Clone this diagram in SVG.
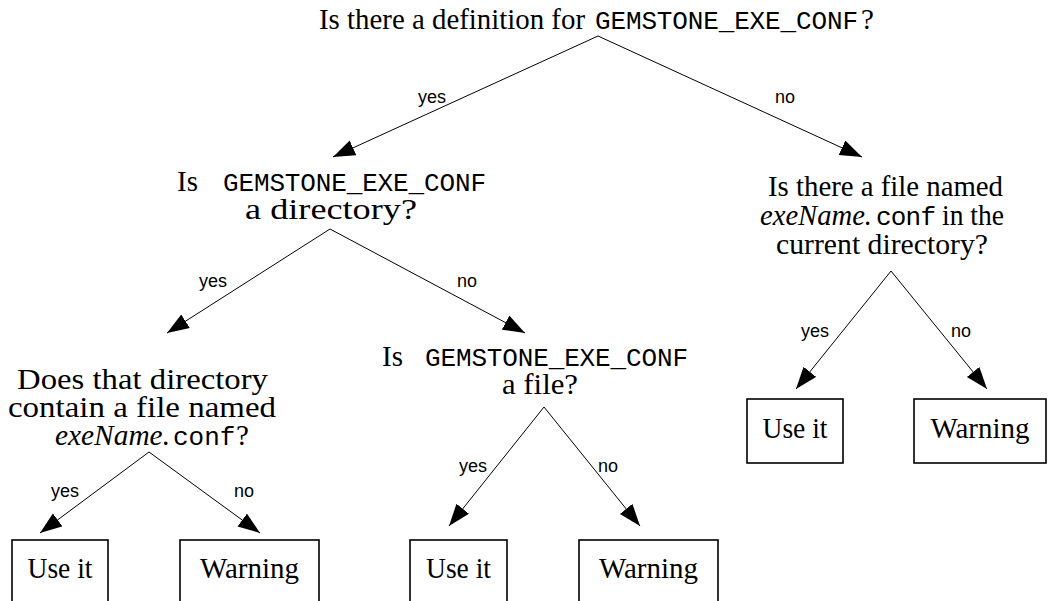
<svg xmlns="http://www.w3.org/2000/svg" width="1048" height="601" viewBox="0 0 1048 601">
<defs>
<marker id="ah" markerUnits="userSpaceOnUse" markerWidth="24" markerHeight="18" refX="22" refY="8" orient="auto">
<path d="M0,0 L22,8 L0,16 z" fill="#000"/>
</marker>
<style>
.s{font-family:"Liberation Serif","Times New Roman",serif;font-size:29px;fill:#000}
.i{font-style:italic}
.m{font-family:"Liberation Mono","Courier New",monospace;font-size:26px;fill:#000}
.l{font-family:"Liberation Sans",Arial,sans-serif;font-size:18px;fill:#000;text-anchor:middle}
.c{text-anchor:middle}
.b{fill:#fff;stroke:#000;stroke-width:1.6}
.e{stroke:#000;stroke-width:1;fill:none;marker-end:url(#ah)}
</style>
</defs>
<rect width="1048" height="601" fill="#fff"/>
<g id="connectors">
<line class="e" x1="598" y1="36" x2="333" y2="157"/>
<line class="e" x1="598" y1="36" x2="862" y2="157"/>
<line class="e" x1="330" y1="229" x2="167" y2="333"/>
<line class="e" x1="330" y1="229" x2="525" y2="333"/>
<line class="e" x1="891" y1="271" x2="796" y2="389"/>
<line class="e" x1="891" y1="271" x2="987" y2="389"/>
<line class="e" x1="149" y1="452" x2="40" y2="533"/>
<line class="e" x1="149" y1="452" x2="260" y2="533"/>
<line class="e" x1="544" y1="407" x2="449" y2="526"/>
<line class="e" x1="544" y1="407" x2="640" y2="526"/>
<text class="l" x="432" y="103">yes</text>
<text class="l" x="785" y="103">no</text>
<text class="l" x="213" y="287">yes</text>
<text class="l" x="467" y="287">no</text>
<text class="l" x="815" y="337">yes</text>
<text class="l" x="961" y="337">no</text>
<text class="l" x="65" y="497">yes</text>
<text class="l" x="244" y="497">no</text>
<text class="l" x="473" y="472">yes</text>
<text class="l" x="608" y="472">no</text>
</g>
<g id="q1">
<text class="s" x="319" y="29" textLength="266" lengthAdjust="spacingAndGlyphs">Is there a definition for</text>
<text class="m" x="595" y="29" textLength="263">GEMSTONE_EXE_CONF</text>
<text class="s" x="861" y="29">?</text>
</g>
<g id="q2">
<text class="s" x="177" y="191">Is</text>
<text class="m" x="223" y="191" textLength="263">GEMSTONE_EXE_CONF</text>
<text class="s" x="245" y="219" textLength="172" lengthAdjust="spacingAndGlyphs">a directory?</text>
</g>
<g id="q3">
<text class="s" x="768" y="196" textLength="235" lengthAdjust="spacingAndGlyphs">Is there a file named</text>
<text class="s i" x="760" y="225" textLength="112" lengthAdjust="spacingAndGlyphs">exeName.</text>
<text class="m" x="876" y="225" textLength="60">conf</text>
<text class="s" x="942" y="225" textLength="62" lengthAdjust="spacingAndGlyphs">in the</text>
<text class="s" x="776" y="254" textLength="212" lengthAdjust="spacingAndGlyphs">current directory?</text>
</g>
<g id="q4">
<text class="s" x="17" y="389" textLength="251" lengthAdjust="spacingAndGlyphs">Does that directory</text>
<text class="s" x="8" y="417" textLength="268" lengthAdjust="spacingAndGlyphs">contain a file named</text>
<text class="s i" x="55" y="445" textLength="115" lengthAdjust="spacingAndGlyphs">exeName.</text>
<text class="m" x="173" y="445">conf</text>
<text class="s" x="236" y="445">?</text>
</g>
<g id="q5">
<text class="s" x="382" y="366">Is</text>
<text class="m" x="425" y="366" textLength="263">GEMSTONE_EXE_CONF</text>
<text class="s" x="502" y="394" textLength="76" lengthAdjust="spacingAndGlyphs">a file?</text>
</g>
<g id="r1"><rect class="b" x="12" y="540" width="96" height="66"/><text class="s c" x="60" y="578" textLength="65" lengthAdjust="spacingAndGlyphs">Use it</text></g>
<g id="r2"><rect class="b" x="180" y="540" width="139" height="66"/><text class="s c" x="249.5" y="578" textLength="99" lengthAdjust="spacingAndGlyphs">Warning</text></g>
<g id="r3"><rect class="b" x="410" y="540" width="97" height="66"/><text class="s c" x="458.5" y="578" textLength="65" lengthAdjust="spacingAndGlyphs">Use it</text></g>
<g id="r4"><rect class="b" x="579" y="540" width="139" height="66"/><text class="s c" x="648.5" y="578" textLength="99" lengthAdjust="spacingAndGlyphs">Warning</text></g>
<g id="r5"><rect class="b" x="747" y="399" width="96" height="64"/><text class="s c" x="795" y="438" textLength="65" lengthAdjust="spacingAndGlyphs">Use it</text></g>
<g id="r6"><rect class="b" x="914" y="399" width="132" height="64"/><text class="s c" x="980" y="438" textLength="99" lengthAdjust="spacingAndGlyphs">Warning</text></g>
</svg>
